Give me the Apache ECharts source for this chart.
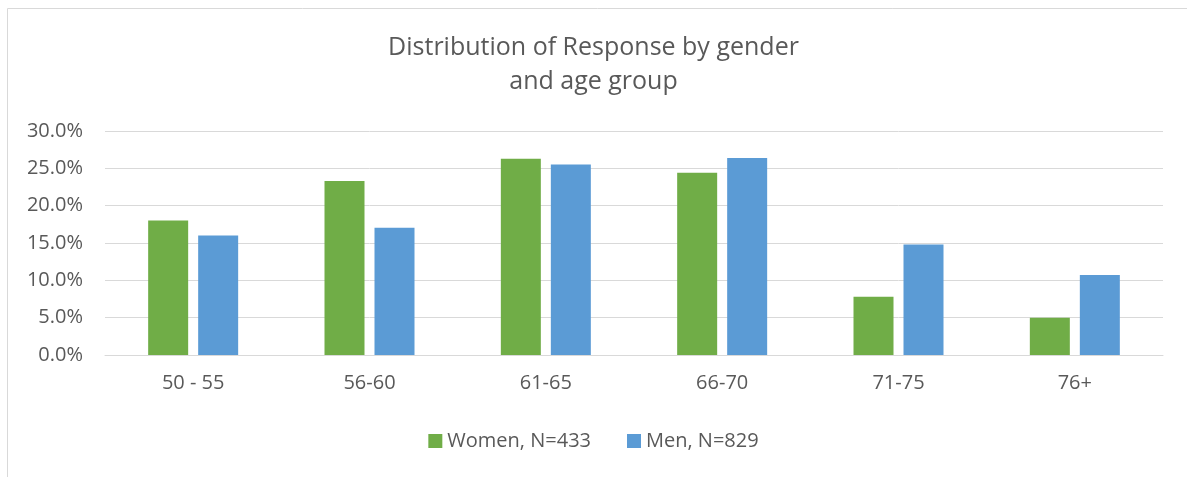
<!DOCTYPE html>
<html>
<head>
<meta charset="utf-8">
<script src="https://cdn.jsdelivr.net/npm/echarts@6/dist/echarts.min.js"></script>
<style>html,body{margin:0;padding:0;background:#fff;}#chart{width:1187px;height:477px;}</style>
</head>
<body>
<div id="chart"></div>
<script>
var ageGroups = ['50 - 55', '56-60', '61-65', '66-70', '71-75', '76+'];
var women = [18.0, 23.3, 26.3, 24.4, 7.8, 5.0];
var men = [16.0, 17.05, 25.5, 26.4, 14.8, 10.7];
var seriesNames = ['Women, N=433', 'Men, N=829'];

var chart = echarts.init(document.getElementById('chart'));
var font = '"Open Sans", "Noto Sans", sans-serif';

option = {
    animation: false,
    graphic: [{type: 'rect', left: 5, top: 6, shape: {width: 1300, height: 600}, style: {fill: 'none', stroke: '#d9d9d9', lineWidth: 1}}],
    title: {text: 'Distribution of Response by gender\nand age group', left: 'center', top: 26,
        textStyle: {fontFamily: font, fontSize: 25, fontWeight: 'normal', color: '#595959', lineHeight: 34}},
    legend: {bottom: 21, left: 'center', itemWidth: 14, itemHeight: 14, itemGap: 36, icon: 'rect',
        textStyle: {fontFamily: font, fontSize: 20, color: '#595959'}, data: seriesNames},
    grid: {left: 105, right: 24, top: 131, bottom: 122},
    xAxis: {type: 'category', data: ageGroups, axisTick: {show: false},
        axisLine: {lineStyle: {color: '#d9d9d9', width: 1}},
        axisLabel: {fontFamily: font, fontSize: 20, color: '#595959', margin: 18}},
    yAxis: {type: 'value', min: 0, max: 30, interval: 5,
        axisLabel: {fontFamily: font, fontSize: 20, color: '#595959', margin: 22, formatter: function (v) {return v.toFixed(1) + '%';}},
        splitLine: {lineStyle: {color: '#d9d9d9', width: 1}}},
    series: [
        {name: seriesNames[0], type: 'bar', data: women, barWidth: 40, barGap: '25%', itemStyle: {color: '#70ad47'}},
        {name: seriesNames[1], type: 'bar', data: men, barWidth: 40, itemStyle: {color: '#5b9bd5'}}
    ]
};

chart.setOption(option);
</script>
</body>
</html>
